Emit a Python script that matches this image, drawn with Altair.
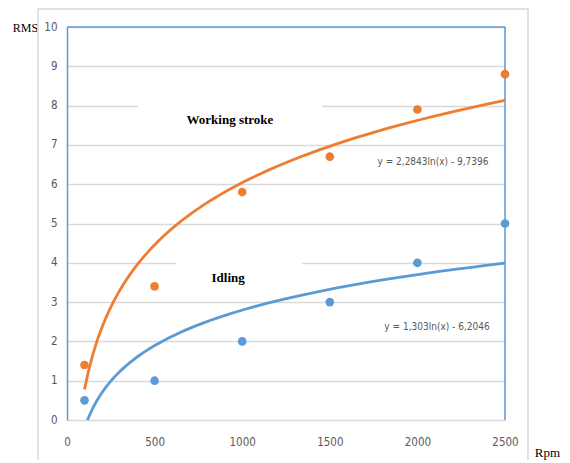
import altair as alt
import pandas as pd

rpm = [100, 500, 1000, 1500, 2000, 2500]
working = [1.4, 3.4, 5.8, 6.7, 7.9, 8.8]
idling = [0.5, 1.0, 2.0, 3.0, 4.0, 5.0]
series_names = ["Working stroke", "Idling"]
series_colors = ["#ED7D31", "#5B9BD5"]
x_ticks = [0, 500, 1000, 1500, 2000, 2500]
y_ticks = list(range(0, 11))

rows = []
for r, w, i in zip(rpm, working, idling):
    rows.append({"rpm": r, "rms": w, "series": "Working stroke"})
    rows.append({"rpm": r, "rms": i, "series": "Idling"})
df = pd.DataFrame(rows)

labels = pd.DataFrame([
    {"x": 930, "y": 7.63, "text": "Working stroke"},
    {"x": 920, "y": 3.61, "text": "Idling"},
])
equations = pd.DataFrame([
    {"x": 2089, "y": 6.56, "text": "y = 2,2843ln(x) - 9,7396"},
    {"x": 2112, "y": 2.37, "text": "y = 1,303ln(x) - 6,2046"},
])
boxes = pd.DataFrame([
    {"x": 405, "x2": 1455, "y": 7.25, "y2": 8.2},
    {"x": 622, "x2": 1341, "y": 3.35, "y2": 4.2},
])

W, H = 438, 393
blue = "#5B9BD5"
grid = "#D9D9D9"
narrow = "DejaVu Sans Condensed, Liberation Sans Narrow, Liberation Sans, sans-serif"

xs = alt.Scale(domain=[0, 2500], nice=False)
ys = alt.Scale(domain=[0, 10], nice=False)
color = alt.Color("series:N", scale=alt.Scale(domain=series_names, range=series_colors), legend=None)

xaxis = alt.Axis(values=x_ticks, format="d", grid=False, domain=False, ticks=False, tickSize=0,
                 labelFlush=False, labelPadding=16, labelFont=narrow, labelFontSize=11.5,
                 labelColor="#595959", title="Rpm", titleFont="Liberation Serif",
                 titleFontSize=13, titleFontWeight="normal", titleColor="#000000",
                 titleX=480, titleY=32, titleAlign="center", titleBaseline="middle")
yaxis = alt.Axis(values=y_ticks, format="d", grid=True, gridColor=grid, gridWidth=1.5,
                 domain=True, domainColor=blue, domainWidth=1.5, ticks=False, tickSize=0,
                 labelFlush=False, labelPadding=10, labelFont=narrow, labelFontSize=11.5,
                 labelColor="#595959", title="RMS", titleFont="Liberation Serif",
                 titleFontSize=12, titleFontWeight="normal", titleColor="#000000",
                 titleAngle=0, titleX=-42, titleY=0, titleAlign="center", titleBaseline="middle")

X = lambda f: alt.X(f, scale=xs, axis=xaxis)
Y = lambda f: alt.Y(f, scale=ys, axis=yaxis)

frame = alt.Chart(alt.Data(values=[{}])).mark_rect(
    fill=None, stroke=grid, strokeWidth=1.5
).encode(x=alt.value(-29), x2=alt.value(461), y=alt.value(-18), y2=alt.value(470))

box_layer = alt.Chart(boxes).mark_rect(fill="white", stroke=None).encode(
    x=X("x:Q"), x2="x2:Q", y=Y("y:Q"), y2="y2:Q")

top_rule = alt.Chart(alt.Data(values=[{}])).mark_rule(color=blue, strokeWidth=1.5).encode(
    y=alt.datum(10, scale=ys, axis=yaxis))
right_rule = alt.Chart(alt.Data(values=[{}])).mark_rule(color=blue, strokeWidth=1.5).encode(
    x=alt.datum(2500, scale=xs, axis=xaxis))

base = alt.Chart(df)
trend = base.transform_regression("rpm", "rms", method="log", groupby=["series"]).mark_line(
    clip=True, strokeWidth=2.8).encode(x=X("rpm:Q"), y=Y("rms:Q"), color=color)
points = base.mark_circle(size=75, opacity=1).encode(x=X("rpm:Q"), y=Y("rms:Q"), color=color)

label_layer = alt.Chart(labels).mark_text(
    font="Liberation Serif", fontSize=13, fontWeight="bold", color="#000000",
    align="center", baseline="middle").encode(x=X("x:Q"), y=Y("y:Q"), text="text:N")
eq_layer = alt.Chart(equations).mark_text(
    font=narrow, fontSize=10, color="#595959",
    align="center", baseline="middle").encode(x=X("x:Q"), y=Y("y:Q"), text="text:N")

chart = alt.layer(box_layer, frame, top_rule, right_rule, trend, points, label_layer, eq_layer).properties(
    width=W, height=H,
    autosize=alt.AutoSizeParams(type="none"),
    padding={"left": 59, "top": 19, "right": 57, "bottom": 40},
).configure_view(stroke=None).configure(background="white")

chart.save("out.html", embed_options={"renderer": "svg", "actions": False})
